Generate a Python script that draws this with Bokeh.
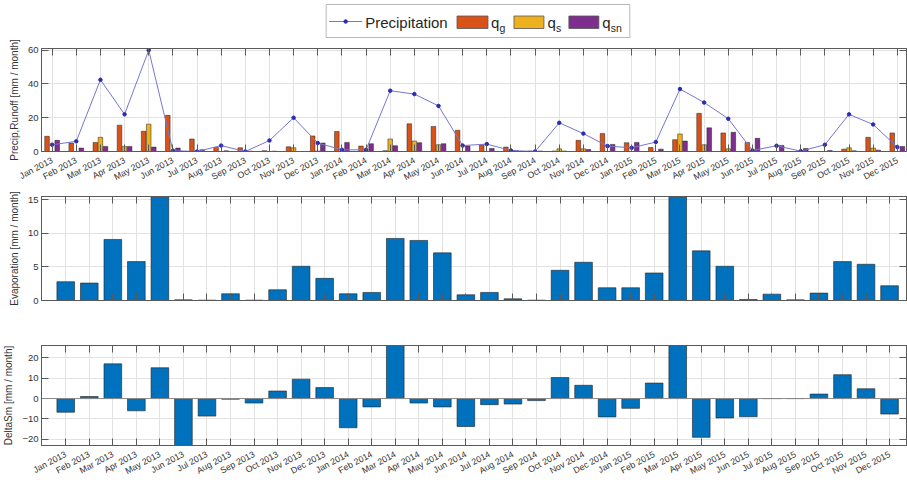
import math
from bokeh.plotting import figure
from bokeh.layouts import column
from bokeh.models import ColumnDataSource, Range1d, FixedTicker, LinearAxis, Span
from bokeh.transform import dodge
from bokeh.core.properties import value
from bokeh.embed import file_html
from bokeh.resources import INLINE

# ---------------- data ----------------
months = ["Jan 2013", "Feb 2013", "Mar 2013", "Apr 2013", "May 2013", "Jun 2013",
          "Jul 2013", "Aug 2013", "Sep 2013", "Oct 2013", "Nov 2013", "Dec 2013",
          "Jan 2014", "Feb 2014", "Mar 2014", "Apr 2014", "May 2014", "Jun 2014",
          "Jul 2014", "Aug 2014", "Sep 2014", "Oct 2014", "Nov 2014", "Dec 2014",
          "Jan 2015", "Feb 2015", "Mar 2015", "Apr 2015", "May 2015", "Jun 2015",
          "Jul 2015", "Aug 2015", "Sep 2015", "Oct 2015", "Nov 2015", "Dec 2015"]
precip = [4, 6, 42.5, 22, 60, 0.5, 0, 3.5, 0, 6.5, 20, 5,
          1, 1, 36, 34, 27, 3.5, 4.4, 0.6, 0, 17, 10.6, 3.2,
          2.2, 5.6, 37, 29, 19.4, 0.6, 3.4, 0.2, 4, 22, 16, 2.6]
q_g = [9, 5, 5.4, 15.6, 12, 21.4, 7.4, 2.4, 2.2, 0.5, 2.8, 9.2,
       11.8, 3.2, 0.5, 16.4, 14.8, 12.6, 4, 2.6, 0.3, 0.3, 6.6, 10.6,
       5.2, 2.4, 7, 22.6, 11, 5.4, 0, 0, 0, 1.4, 8.4, 11]
q_s = [0, 0, 8.4, 3, 16.2, 0, 0, 0, 0, 0, 2.2, 0.3,
       0, 0, 7.4, 6.2, 4, 0, 0, 0, 0, 1.6, 1.6, 0,
       0, 0, 10.4, 4, 1.6, 0, 0, 0, 0, 2.2, 2, 0]
q_sn = [6.6, 2, 3, 3, 2.6, 2, 1, 0.4, 0.2, 0.2, 0, 5,
        5.4, 4.6, 3.4, 5.2, 4.6, 3.2, 1.8, 0.4, 0.3, 0.3, 1.2, 4.2,
        5.4, 1.4, 6.2, 14, 11.4, 7.8, 3.6, 1.8, 0.6, 0.4, 0.8, 3]
evaporation = [2.8, 2.6, 9.1, 5.8, 17.0, 0.1, 0.05, 1.0, 0.05, 1.6, 5.1, 3.3,
               1.0, 1.2, 9.25, 8.95, 7.1, 0.85, 1.2, 0.25, 0.05, 4.5, 5.7, 1.9,
               1.9, 4.1, 17.0, 7.4, 5.1, 0.15, 0.95, 0.1, 1.1, 5.8, 5.4, 2.2]
delta_sm = [-6.7, 1, 17, -6, 15.1, -25, -8.6, -0.3, -2.2, 3.7, 9.5, 5.4,
            -14.3, -4.1, 28, -2.2, -4.1, -13.7, -3, -2.7, -1, 10.3, 6.5, -9,
            -4.8, 7.6, 28, -19, -9.5, -8.9, 0, 0, 2.2, 11.7, 4.8, -7.6]
ticks_top = [0, 20, 40, 60]
ticks_mid = [0, 5, 10, 15]
ticks_bot = [-20, -10, 0, 10, 20]

idx = list(range(len(months)))
src = ColumnDataSource(dict(x=idx, precip=precip, q_g=q_g, q_s=q_s,
                            q_sn=q_sn, evap=evaporation, dsm=delta_sm))

# ---------------- style ----------------
FONT = "Liberation Sans"
AX = "#5a5a5a"
TXT = "#333333"
GRID = "#e2e2e2"
C_G, C_S, C_SN = "#D95319", "#EDB120", "#7E2F8E"
BLUE = "#0072BD"
EDGE = "#222222"
PLINE = "#7676cf"
PDOT = "#2a2ab4"
ANG = 0.49


def make_fig(height, xr, yr, ytick, ylabel, show_xlabels, top, bottom):
    p = figure(width=907, height=height, x_range=xr, y_range=yr,
               output_backend="svg", toolbar_location=None,
               min_border_left=40, min_border_right=1,
               min_border_top=top, min_border_bottom=bottom)
    p.outline_line_color = AX
    p.background_fill_color = "white"
    p.border_fill_color = "white"
    xa = p.below[0]
    xa.ticker = FixedTicker(ticks=idx)
    if show_xlabels:
        xa.major_label_overrides = {i: m for i, m in enumerate(months)}
        xa.major_label_orientation = ANG
        xa.major_label_standoff = 8
    else:
        xa.major_label_overrides = {i: "" for i in idx}
        xa.major_label_standoff = 0
    xa.major_label_text_font = FONT
    xa.major_label_text_font_size = "8.8px"
    xa.major_label_text_color = TXT
    xa.major_tick_in = 7
    xa.major_tick_out = 0
    xa.minor_tick_line_color = None
    xa.axis_line_color = AX
    xa.major_tick_line_color = AX
    ya = p.left[0]
    ya.ticker = FixedTicker(ticks=ytick)
    ya.major_label_text_font = FONT
    ya.major_label_text_font_size = "9.5px"
    ya.major_label_text_color = TXT
    ya.major_label_standoff = 3
    ya.major_tick_in = 7
    ya.major_tick_out = 0
    ya.minor_tick_line_color = None
    ya.axis_line_color = AX
    ya.major_tick_line_color = AX
    ya.axis_label = ylabel
    ya.axis_label_text_font = FONT
    ya.axis_label_text_font_size = "10px"
    ya.axis_label_text_font_style = "normal"
    ya.axis_label_text_color = TXT
    ya.axis_label_standoff = 5
    p.xgrid.ticker = FixedTicker(ticks=idx)
    p.ygrid.ticker = FixedTicker(ticks=ytick)
    p.grid.grid_line_color = GRID
    # box ticks on top and right (MATLAB style)
    ta = LinearAxis(ticker=FixedTicker(ticks=idx),
                    major_label_overrides={i: "" for i in idx},
                    major_label_standoff=0, major_tick_in=7, major_tick_out=0,
                    minor_tick_line_color=None, axis_line_color=AX,
                    major_tick_line_color=AX)
    p.add_layout(ta, "above")
    ra = LinearAxis(ticker=FixedTicker(ticks=ytick),
                    major_label_overrides={t: "" for t in ytick},
                    major_label_standoff=0, major_tick_in=7, major_tick_out=0,
                    minor_tick_line_color=None, axis_line_color=AX,
                    major_tick_line_color=AX)
    p.add_layout(ra, "right")
    return p


# ---------------- legend strip (frame aligned with the panels: x = pixel) ----------------
leg = figure(width=907, height=40, x_range=Range1d(40, 906),
             y_range=Range1d(40, 0), output_backend="svg", toolbar_location=None,
             min_border_left=40, min_border_right=1,
             min_border_top=0, min_border_bottom=0,
             x_axis_type=None, y_axis_type=None, outline_line_color=None)
leg.grid.visible = False
leg.quad(left=[325], right=[629], top=[4], bottom=[37], fill_color="white",
         line_color="#b8b8b8", line_width=1)
leg.line([328, 361], [21, 21], line_color=PLINE, line_width=1)
leg.scatter([344.5], [21], size=3.5, fill_color=PDOT, line_color=PDOT)
leg.text(x=[364], y=[21.5], text=["Precipitation"], text_font=value(FONT),
         text_font_size="15px", text_baseline="middle", text_color="#262626")
for (l, r, c, sub, qx) in [(456, 487, C_G, "g", 490), (513, 543, C_S, "s", 546.5),
                           (568, 598, C_SN, "sn", 601.5)]:
    leg.quad(left=[l], right=[r], top=[15.5], bottom=[28], fill_color=c,
             line_color="#555555", line_width=0.8)
    leg.text(x=[qx], y=[21.5], text=["q"], text_font=value(FONT),
             text_font_size="15px", text_baseline="middle", text_color="#262626")
    leg.text(x=[qx + 8.5], y=[27], text=[sub], text_font=value(FONT),
             text_font_size="10.5px", text_baseline="middle", text_color="#262626")

# ---------------- top panel ----------------
p1 = make_fig(152, Range1d(-0.44, 35.38), Range1d(0, 61), ticks_top,
              "Precip,Runoff [mm / month]", True, 8, 41)
bw = 0.19
p1.vbar(x=dodge("x", -0.21), top="q_g", width=bw, source=src,
        fill_color=C_G, line_color=EDGE, line_width=0.5)
p1.vbar(x=dodge("x", 0.0), top="q_s", width=bw, source=src,
        fill_color=C_S, line_color=EDGE, line_width=0.5)
p1.vbar(x=dodge("x", 0.21), top="q_sn", width=bw, source=src,
        fill_color=C_SN, line_color=EDGE, line_width=0.5)
p1.line("x", "precip", source=src, line_color=PLINE, line_width=1)
p1.scatter("x", "precip", source=src, size=3.5, fill_color=PDOT, line_color=PDOT)

# ---------------- middle panel ----------------
xr2 = Range1d(-1.03, 35.72)
p2 = make_fig(118, xr2, Range1d(0, 15.5), ticks_mid,
              "Evaporation [mm / month]", False, 4, 10)
p2.vbar(x="x", top="evap", width=0.75, source=src, fill_color=BLUE,
        line_color=EDGE, line_width=0.6)

# ---------------- bottom panel ----------------
p3 = make_fig(173, xr2, Range1d(-23, 26), ticks_bot,
              "DeltaSm [mm / month]", True, 35, 36)
p3.add_layout(Span(location=0, dimension="width", line_color="#8a8a8a", line_width=1))
p3.vbar(x="x", top="dsm", bottom=0, width=0.75, source=src, fill_color=BLUE,
        line_color=EDGE, line_width=0.6)

layout = column(leg, p1, p2, p3, spacing=0)
open("out.html", "w").write(file_html(layout, INLINE))
